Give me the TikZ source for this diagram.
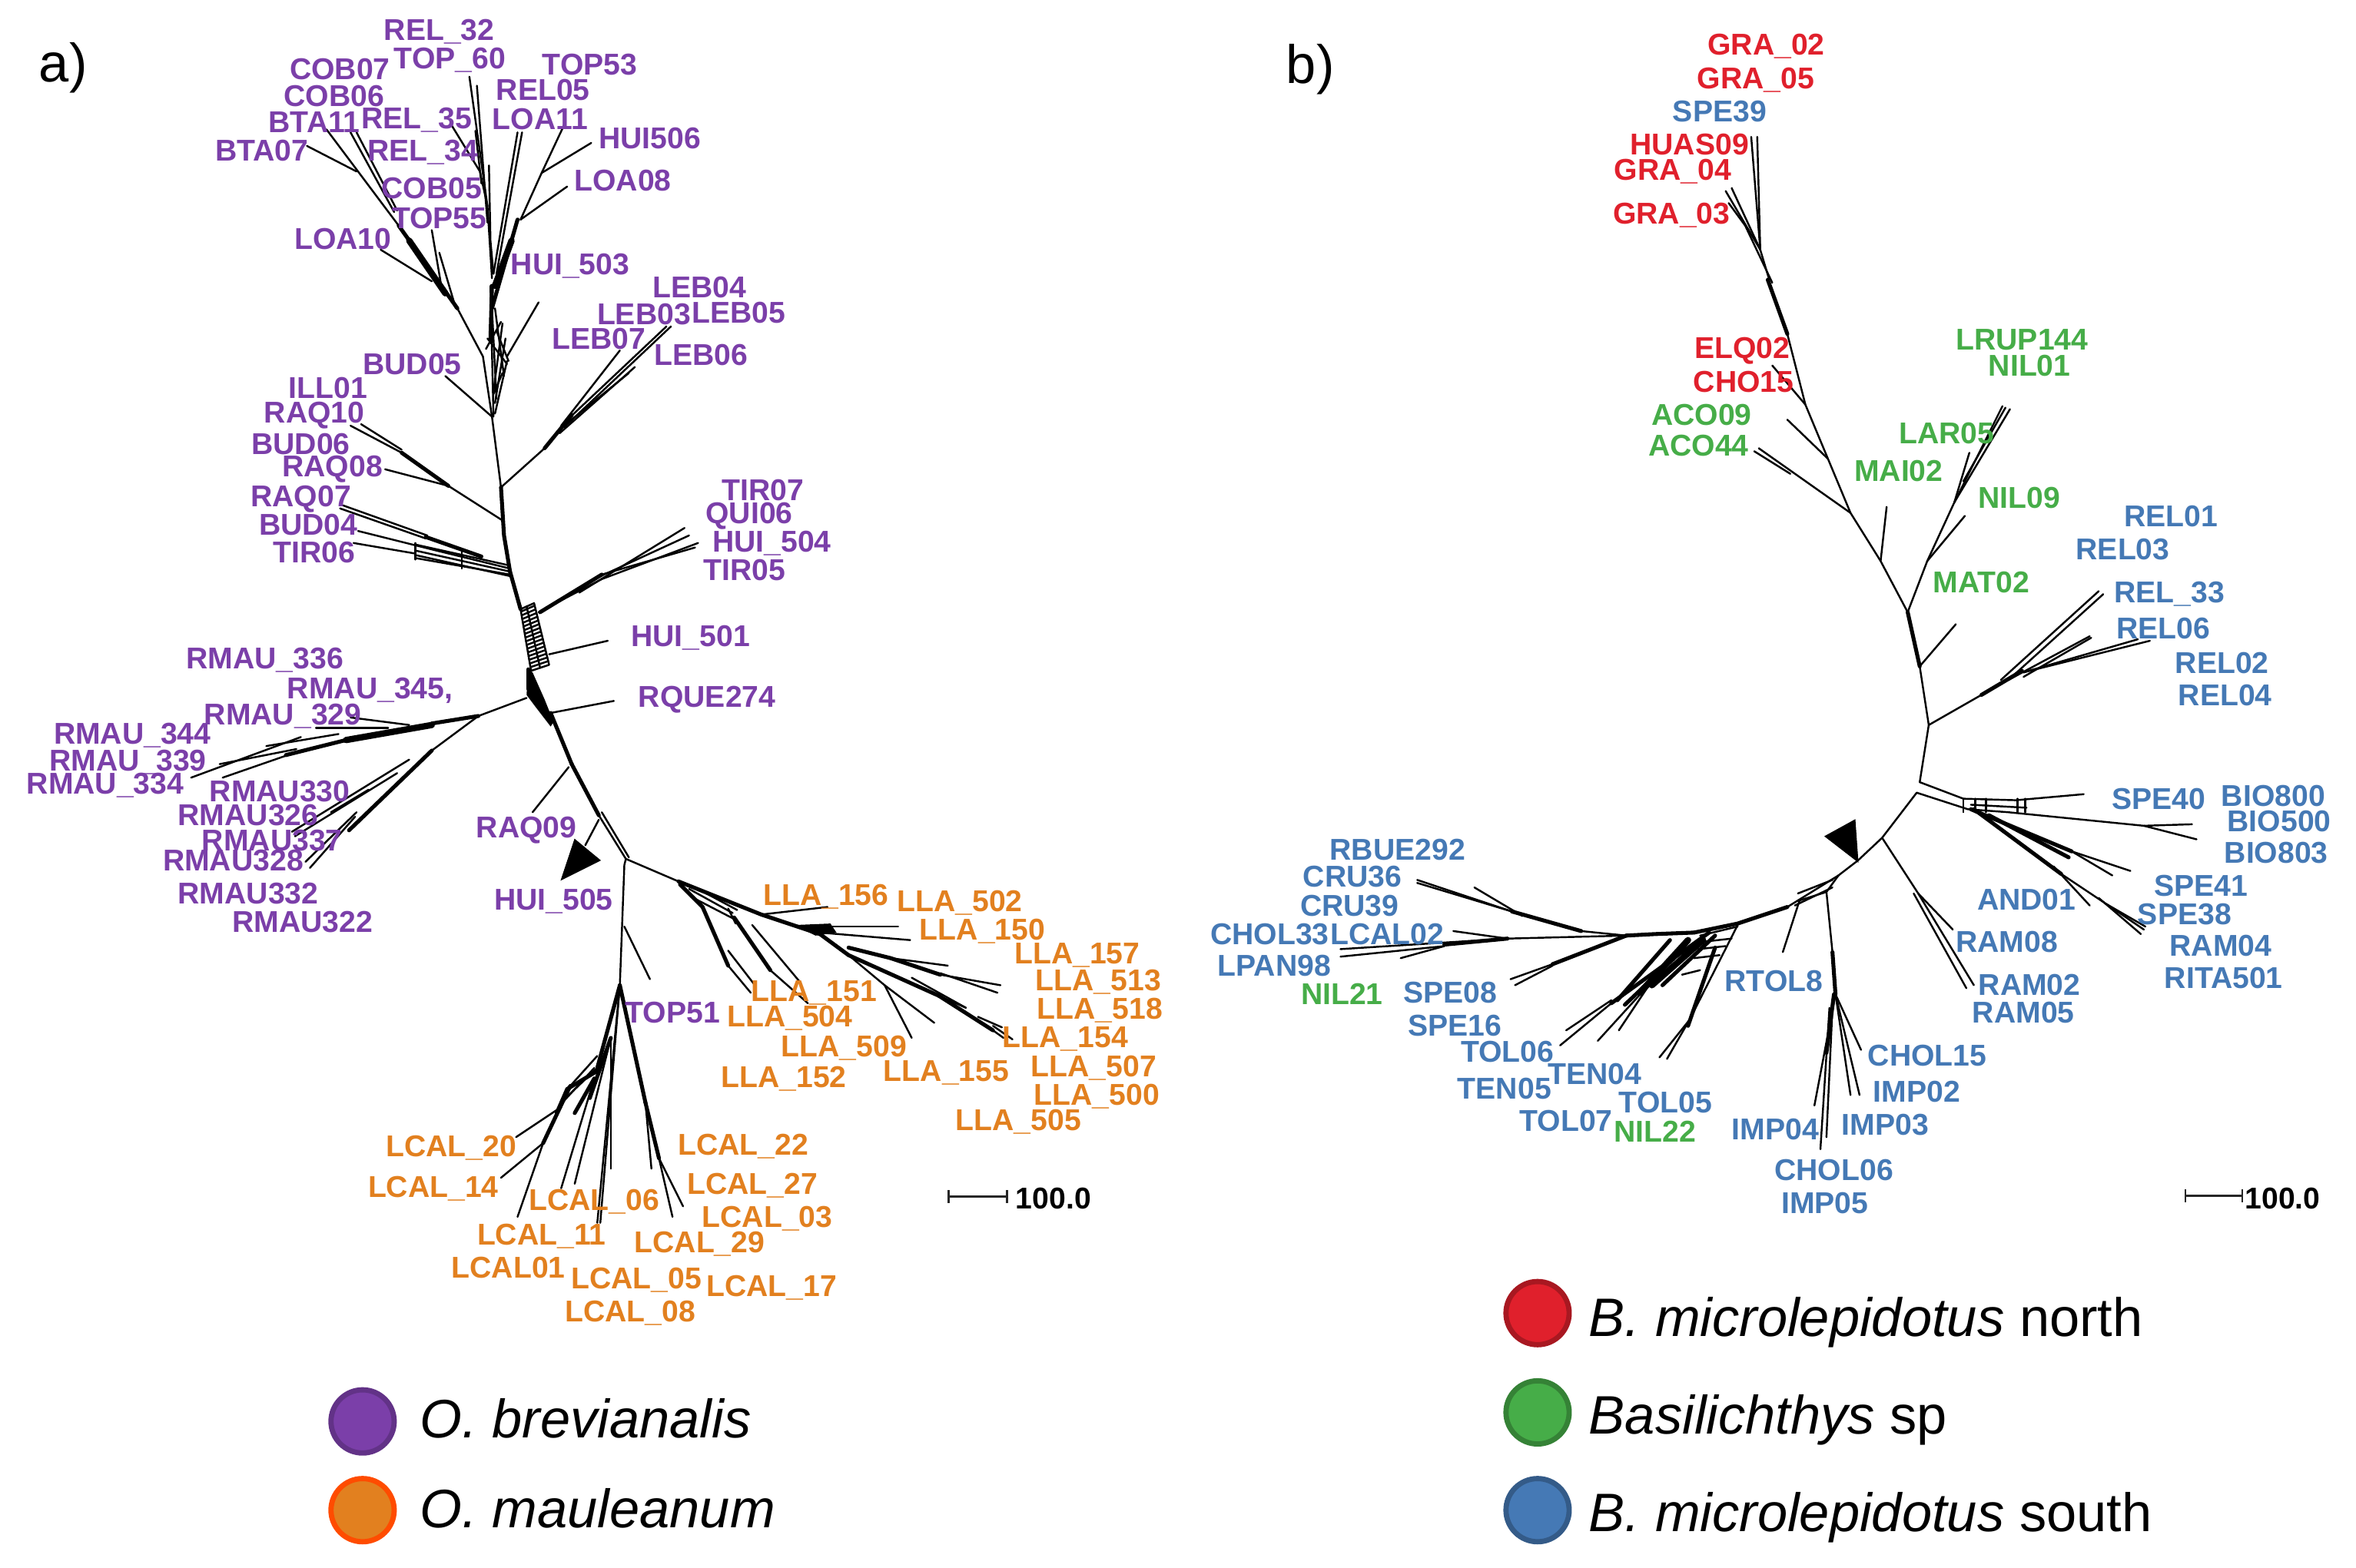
\documentclass[tikz,border=0pt]{standalone}
\usepackage{fontspec}
\usetikzlibrary{calc}
\setmainfont{Liberation Sans}
\definecolor{cpl}{HTML}{7B3FA9}
\definecolor{cog}{HTML}{E2801F}
\definecolor{crd}{HTML}{E0202C}
\definecolor{cgr}{HTML}{46AD48}
\definecolor{cbl}{HTML}{4579B5}
\tikzset{
 lab/.style={inner sep=0pt,font=\bfseries\fontsize{20}{20}\selectfont},
 pl/.style={lab,text=cpl}, og/.style={lab,text=cog}, rd/.style={lab,text=crd}, gr/.style={lab,text=cgr}, bl/.style={lab,text=cbl},
 br/.style={draw=black,line width=1.25pt,line cap=round,line join=round},
 th/.style={draw=black,line width=2.6pt,line cap=round,line join=round},
 fat/.style={draw=black,line width=4.2pt,line cap=round,line join=round},
 tri/.style={fill=black,draw=black,line width=.5pt},
 legdot/.style={circle,minimum size=42pt,inner sep=0pt,line width=3.5pt},
 legtext/.style={inner sep=0pt,anchor=west,font=\fontsize{36}{36}\selectfont},
 ptag/.style={inner sep=0pt,font=\fontsize{36}{36}\selectfont},
 scal/.style={lab,anchor=west,text=black},
 bar/.style={draw=black!85,line width=1.2pt,|-|}
}
\begin{document}
\begin{tikzpicture}[x=1pt,y=-1pt]
\useasboundingbox[fill=white] (0,0) rectangle (1566,1042);
% ---------- panel a tree ----------
\coordinate (A1) at (335,356); \coordinate (A2) at (333,324); \coordinate (A3) at (327,277);
\coordinate (A4) at (321,237); \coordinate (A5) at (339,380); \coordinate (A6) at (346,405);
\coordinate (A7) at (353,453); \coordinate (A8) at (366,474); \coordinate (A9) at (380,508);
\coordinate (A10) at (398,542); \coordinate (A11) at (416,571); \coordinate (A12) at (412,655);
\coordinate (A13) at (451,586); \coordinate (A14) at (298,323); \coordinate (A15) at (318,476);
\coordinate (A16) at (350,464);
% top
\draw[th] (A2)--(A1)--(A5);
\draw[br] (A2)--(A3)--(A4)--(304,205);
\draw[th] (304,205)--(265,150);
\draw[fat] (272,160)--(296,195);
\draw[br] (237,114)--(204,97);
\draw[br] (217,86)--(265,150);
\draw[br] (233,88)--(262,141); \draw[br] (237,88)--(264,140);
\draw[br] (253,166)--(287,187);
\draw[br] (287,153)--(294,194); \draw[br] (292,168)--(303,205);
\draw[th] (327,205)--(344,146);
\draw[fat] (329,190)--(340,160);
\draw[br] (347,88)--(330,182); \draw[br] (344,88)--(328,182);
\draw[br] (346,146)--(360,115)--(375,83); \draw[br] (393,95)--(360,115);
\draw[br] (377,124)--(346,146);
\draw[br] (312,51)--(324,137)--(327,185); \draw[br] (317,57)--(324,148);
\draw[br] (300,83)--(319,114)--(324,137);
\draw[br] (316,87)--(320,122);
\draw[br] (325,110)--(326,160)--(328,182);
\draw[br] (358,201)--(337,237);
% reticulation
\draw[br] (327,205)--(330,265); \draw[br] (329,205)--(335,250); \draw[br] (334,215)--(328,260);
\draw[br] (336,225)--(329,268); \draw[br] (324,225)--(337,242); \draw[br] (330,220)--(338,240);
\draw[br] (337,240)--(329,275); \draw[br] (334,248)--(328,262); \draw[br] (326,190)--(328,277);
\draw[br] (323,232)--(333,214);
\draw[th] (327,190)--(326,225);
% BUD05
\draw[br] (296,250)--(A3);
% LEB
\draw[br] (A2)--(362,298); \draw[th] (362,298)--(380,276);
\draw[br] (446,217)--(375,284); \draw[br] (443,217)--(374,282);
\draw[br] (422,244)--(372,288); \draw[br] (412,233)--(373,283); \draw[br] (418,248)--(375,283);
% RAQ
\draw[br] (334,346)--(A14); \draw[th] (A14)--(267,301);
\draw[br] (267,301)--(233,283); \draw[br] (267,299)--(240,282);
\draw[br] (256,312)--(A14);
% TIR06 ladder
\draw[br] (226,338)--(283,358); \draw[br] (228,336)--(284,356);
\draw[br] (238,353)--(290,366)--(339,378);
\draw[br] (235,361)--(276,368);
\draw[br] (276,362)--(339,376); \draw[br] (276,366)--(339,380); \draw[br] (276,369)--(339,383);\draw[br] (276,371)--(339,382);
\draw[br] (276,361)--(276,372); \draw[br] (307,367)--(307,378);
\draw[th] (283,357)--(320,370);
% lower backbone
\draw[th] (A5)--(A6);
\draw[br] (346,405)--(355,401)--(365,442)--(353,446)--cycle;
\draw[br] (350,403)--(359,444);
\foreach \t in {0.04,0.10,...,1.0}{\draw[br] ($(346,405)!\t!(353,446)$)--($(355,401)!\t!(365,442)$);}
\draw[th] (351,445)--(351,458);
\fill[black] (351,445)--(354,447)--(362,465)--(368,480)--(366,483)--(356,470)--(350,462)--cycle;
\draw[th] (A8)--(A9); \draw[th] (A9)--(A10);
\draw[br] (A10)--(A11); \draw[br] (400,540)--(418,570);
% TIR
\draw[br] (358,407)--(400,385);
\draw[th] (359,407)--(400,382);
\draw[br] (400,382)--(462,364); \draw[br] (400,385)--(464,361); \draw[br] (385,394)--(455,351); \draw[br] (395,385)--(458,356);
% HUI501 RQUE
\draw[br] (365,435)--(404,426);
\draw[br] (366,474)--(408,466);
% RMAU
\draw[br] (A16)--(A15);
\draw[th] (A15)--(287,481); \draw[fat] (287,482)--(230,492); \draw[th] (230,492)--(190,502);
\draw[br] (233,477)--(272,482); \draw[br] (210,484)--(258,484);
\draw[br] (177,496)--(225,488); \draw[br] (146,508)--(197,498);
\draw[br] (148,517)--(197,500); \draw[br] (127,517)--(200,490);
\draw[br] (A15)--(287,499); \draw[th] (287,499)--(232,552);
\draw[br] (272,505)--(194,553); \draw[br] (264,514)--(196,556); \draw[br] (245,525)--(220,540);
\draw[br] (237,540)--(203,573); \draw[br] (236,543)--(206,577);
% RAQ09 HUI505
\draw[br] (354,540)--(378,510);
\draw[br] (398,545)--(389,562);
\draw[tri] (382,558)--(399,572)--(373,585)--cycle;
% to LCAL
\draw[br] (A11)--(415,575)--(A12);
\draw[br] (415,616)--(432,651);
% LLA
\draw[br] (A11)--(A13);
\draw[th] (A13)--(506,608)--(545,621)--(564,635);
\draw[th] (452,588)--(467,603);
\draw[br] (459,596)--(488,611); \draw[br] (462,590)--(490,605); \draw[br] (458,591)--(487,607); \draw[br] (484,604)--(489,614);
\draw[th] (467,603)--(484,642); \draw[br] (484,642)--(499,660); \draw[br] (484,632)--(501,654);
\draw[th] (488,610)--(512,645); \draw[br] (512,645)--(537,667); \draw[br] (500,615)--(531,652);
\draw[br] (506,608)--(550,603);
\fill[black] (528,615)--(552,614)--(556,620)--(542,622)--cycle;
\draw[br] (545,616)--(597,616); \draw[br] (545,620)--(605,625);
\draw[th] (564,630)--(592,637);
\draw[th] (592,637)--(625,648);
\draw[br] (592,637)--(630,642); \draw[br] (625,648)--(665,655); \draw[br] (625,647)--(663,660);
\draw[br] (564,635)--(588,655)--(606,690); \draw[br] (588,655)--(621,680);
\draw[th] (564,635)--(624,662);
\draw[br] (624,662)--(642,670);
\draw[th] (624,662)--(660,685);
\draw[br] (660,685)--(667,690); \draw[br] (660,682)--(673,691); \draw[br] (650,676)--(666,683);
\draw[br] (606,650)--(642,670);
% LCAL
\draw[th] (A12)--(397,710);
\draw[th] (397,712)--(377,724)--(370,740);
\draw[br] (379,722)--(397,702); \draw[br] (372,735)--(395,710); \draw[br] (376,730)--(399,708);
\draw[br] (343,756)--(370,738); \draw[br] (333,783)--(361,760);
\draw[br] (344,809)--(361,760); \draw[th] (361,760)--(379,722);
\draw[br] (373,790)--(395,717); \draw[th] (382,740)--(395,717);
\draw[br] (382,787)--(406,690); \draw[th] (392,730)--(406,690);
\draw[br] (406,777)--(406,690);
\draw[br] (397,813)--(A12); \draw[br] (399,813)--(A12);
\draw[th] (A12)--(429,733);
\draw[th] (429,733)--(438,770);
\draw[br] (438,770)--(447,809); \draw[br] (438,770)--(454,802); \draw[br] (429,733)--(433,777);
% ---------- panel b tree ----------
\coordinate (B1) at (1170,166); \coordinate (B2) at (1188,222); \coordinate (B3) at (1200,269);
\coordinate (B4) at (1215,305); \coordinate (B5) at (1230,341); \coordinate (B6) at (1250,373);
\coordinate (B7) at (1268,407); \coordinate (B8) at (1276,443); \coordinate (B9) at (1282,482);
\coordinate (B10) at (1276,520); \coordinate (B11) at (1274,527); \coordinate (B12) at (1251,557);
\coordinate (B13) at (1235,572); \coordinate (B14) at (1222,582); \coordinate (B15) at (1188,603);
\coordinate (B16) at (1155,614); \coordinate (B17) at (1126,620); \coordinate (B18) at (1081,622);
\draw[br] (1164,91)--(1170,166); \draw[br] (1168,91)--(1170,166);
\draw[br] (1147,127)--(B1); \draw[br] (1151,125)--(B1); \draw[br] (1149,135)--(1160,150);
\draw[br] (1160,150)--(1178,188); \draw[br] (B1)--(1176,186);
\draw[th] (1175,186)--(B2);
\draw[br] (B2)--(B3)--(B4)--(B5)--(B6)--(B7);
\draw[br] (1178,243)--(B3); \draw[br] (1188,279)--(B4);
\draw[br] (1169,298)--(B5); \draw[br] (1166,300)--(1190,315);
\draw[br] (1254,337)--(B6);
\draw[br] (B7)--(1281,373)--(1299,334);
\draw[br] (1299,334)--(1331,270); \draw[br] (1299,334)--(1336,272); \draw[br] (1305,320)--(1333,271);
\draw[br] (1309,301)--(1299,334);
\draw[br] (1306,343)--(1281,373);
\draw[br] (1300,415)--(B8);
\draw[th] (B7)--(B8); \draw[br] (B8)--(B9)--(B10);
\draw[br] (B9)--(1317,462);
\draw[th] (1317,462)--(1344,446);
\draw[br] (1330,452)--(1395,393); \draw[br] (1335,452)--(1398,395);
\draw[br] (1335,452)--(1389,423); \draw[br] (1345,450)--(1390,424);
\draw[br] (1345,447)--(1421,425); \draw[br] (1345,447)--(1429,426);
% bottom right ladder
\draw[br] (B10)--(1305,531)--(1340,532)--(1385,528);
\draw[br] (B11)--(1308,538)--(1335,540)--(1425,549);
\draw[br] (1425,549)--(1457,548); \draw[br] (1425,549)--(1460,558);
\foreach \u in {1305,1313,1320,1341,1346}{\draw[br] (\u,531)--(\u,540);}
\draw[br] (1310,535)--(1347,537);
\draw[br] (B11)--(B12)--(B13)--(B14);
\draw[th] (1310,538)--(1377,566);
\draw[br] (1377,566)--(1416,579); \draw[br] (1377,566)--(1404,582);
\draw[th] (1312,538)--(1370,581);
\draw[br] (1365,576)--(1389,602); \draw[br] (1370,581)--(1400,601)--(1426,616); \draw[br] (1400,601)--(1425,618); \draw[br] (1395,597)--(1423,621);
\draw[th] (1322,542)--(1375,570);
\draw[br] (B12)--(1275,594)--(1298,618); \draw[br] (1275,594)--(1312,655); \draw[br] (1272,594)--(1307,657);
\draw[tri] (1213,556)--(1233,545)--(1235,573)--cycle;
% bottom
\draw[br] (1214,593)--(1218,633);
\draw[th] (1218,633)--(1220,661);
\draw[br] (1220,661)--(1237,698); \draw[br] (1220,661)--(1236,728); \draw[br] (1220,661)--(1230,728);
\draw[br] (1220,661)--(1206,735); \draw[th] (1219,661)--(1214,700);
\draw[br] (1216,670)--(1210,764); \draw[br] (1218,670)--(1214,756);
\draw[br] (1196,599)--(1185,633);
% to left
\draw[br] (B14)--(B15); \draw[br] (B14)--(1214,593)--(1195,599);
\draw[br] (1218,585)--(1195,594); \draw[br] (1218,590)--(1193,602);
\draw[th] (B15)--(B16)--(B17); \draw[th] (B17)--(1100,621)--(B18);
\draw[br] (B18)--(1051,619);
\draw[th] (1051,619)--(1005,606);
\draw[br] (1005,606)--(942,585); \draw[br] (1005,606)--(942,587); \draw[br] (980,590)--(1012,609);
\draw[br] (B18)--(1002,624);
\draw[br] (1002,624)--(891,631); \draw[br] (966,619)--(1002,624);
\draw[br] (891,636)--(960,629); \draw[br] (931,637)--(960,629);
\draw[th] (960,628)--(1002,624);
\draw[br] (B18)--(1032,641)--(1004,651); \draw[br] (1007,655)--(1032,642);
\draw[th] (B18)--(1032,641);
% mesh
\draw[th] (1136,620)--(1071,667);
\draw[fat] (1122,625)--(1090,660);
\draw[fat] (1132,625)--(1098,655);
\draw[th] (1110,625)--(1075,665);
\draw[th] (1118,632)--(1080,668);
\draw[th] (1140,622)--(1105,655);
\draw[br] (1071,667)--(1037,695); \draw[br] (1071,665)--(1041,685);
\draw[br] (1103,647)--(1062,692); \draw[br] (1098,652)--(1076,685);
\draw[br] (1155,615)--(1123,678)--(1103,703); \draw[br] (1123,678)--(1108,704);
\draw[th] (1140,630)--(1122,682);
\draw[br] (1130,622)--(1155,616); \draw[br] (1133,626)--(1151,624); \draw[br] (1129,631)--(1147,629);
\draw[br] (1126,637)--(1143,635); \draw[br] (1118,648)--(1130,645);
% ---------- scale bars ----------
\coordinate (SA1) at (630,795.5); \coordinate (SA2) at (670,795.5);
\coordinate (SB1) at (1452,795); \coordinate (SB2) at (1491,795);
\draw[bar] (SA1)--(SA2); \draw[bar] (SB1)--(SB2);
\node[scal] (scaleA) at (675,797) {100.0};
\node[scal] (scaleB) at (1492,797) {100.0};
% ---------- tags ----------
\node[ptag] (tagA) at (42,45) {a)};
\node[ptag] (tagB) at (871,46) {b)};
% ---------- purple ----------
\node[pl] (a1) at (292,21) {REL\_32};
\node[pl] (a2) at (299,40) {TOP\_60};
\node[pl] (a3) at (226,46) {COB07};
\node[pl] (a4) at (392,43) {TOP53};
\node[pl] (a5) at (222,64) {COB06};
\node[pl] (a6) at (361,60) {REL05};
\node[pl] (a7) at (209,81) {BTA11};
\node[pl] (a8) at (277,80) {REL\_35};
\node[pl] (a9) at (359,79) {LOA11};
\node[pl] (a10) at (432,92) {HUI506};
\node[pl] (a11) at (174,100) {BTA07};
\node[pl] (a12) at (281,101) {REL\_34};
\node[pl] (a13) at (414,120) {LOA08};
\node[pl] (a14) at (287,125) {COB05};
\node[pl] (a15) at (292,145) {TOP55};
\node[pl] (a16) at (228,159) {LOA10};
\node[pl] (a17) at (379,177) {HUI\_503};
\node[pl] (a18) at (465,191) {LEB04};
\node[pl] (a19) at (428,209) {LEB03};
\node[pl] (a20) at (491,208) {LEB05};
\node[pl] (a21) at (398,225) {LEB07};
\node[pl] (a22) at (466,236) {LEB06};
\node[pl] (a23) at (274,242) {BUD05};
\node[pl] (a24) at (218,258) {ILL01};
\node[pl] (a25) at (209,276) {RAQ10};
\node[pl] (a26) at (200,295) {BUD06};
\node[pl] (a27) at (221,312) {RAQ08};
\node[pl] (a28) at (200,332) {RAQ07};
\node[pl] (a29) at (205,349) {BUD04};
\node[pl] (a30) at (507,326) {TIR07};
\node[pl] (a31) at (498,343) {QUI06};
\node[pl] (a32) at (513,361) {HUI\_504};
\node[pl] (a33) at (495,379) {TIR05};
\node[pl] (a34) at (209,367) {TIR06};
\node[pl] (a35) at (459,424) {HUI\_501};
\node[pl] (a36) at (176,439) {RMAU\_336};
\node[pl] (a37) at (246,459) {RMAU\_345,};
\node[pl] (a38) at (188,476) {RMAU\_329};
\node[pl] (a39) at (470,465) {RQUE274};
\node[pl] (a40) at (88,489) {RMAU\_344};
\node[pl] (a41) at (85,507) {RMAU\_339};
\node[pl] (a42) at (70,522) {RMAU\_334};
\node[pl] (a43) at (186,526) {RMAU330};
\node[pl] (a44) at (165,542) {RMAU326};
\node[pl] (a45) at (181,559) {RMAU337};
\node[pl] (a46) at (155,572) {RMAU328};
\node[pl] (a47) at (165,594) {RMAU332};
\node[pl] (a48) at (201,613) {RMAU322};
\node[pl] (a49) at (350,552) {RAQ09};
\node[pl] (a50) at (368,599) {HUI\_505};
\node[pl] (a51) at (447,673) {TOP51};
% ---------- orange ----------
\node[og] (o1) at (549,596) {LLA\_156};
\node[og] (o2) at (638,600) {LLA\_502};
\node[og] (o3) at (653,619) {LLA\_150};
\node[og] (o4) at (716,635) {LLA\_157};
\node[og] (o5) at (730,653) {LLA\_513};
\node[og] (o6) at (731,672) {LLA\_518};
\node[og] (o7) at (541,660) {LLA\_151};
\node[og] (o8) at (525,677) {LLA\_504};
\node[og] (o9) at (561,697) {LLA\_509};
\node[og] (o10) at (708,691) {LLA\_154};
\node[og] (o11) at (727,710) {LLA\_507};
\node[og] (o12) at (729,729) {LLA\_500};
\node[og] (o13) at (521,717) {LLA\_152};
\node[og] (o14) at (629,713) {LLA\_155};
\node[og] (o15) at (677,746) {LLA\_505};
\node[og] (o16) at (300,763) {LCAL\_20};
\node[og] (o17) at (494,762) {LCAL\_22};
\node[og] (o18) at (288,790) {LCAL\_14};
\node[og] (o19) at (500,788) {LCAL\_27};
\node[og] (o20) at (395,799) {LCAL\_06};
\node[og] (o21) at (510,810) {LCAL\_03};
\node[og] (o22) at (360,822) {LCAL\_11};
\node[og] (o23) at (465,827) {LCAL\_29};
\node[og] (o24) at (338,843) {LCAL01};
\node[og] (o25) at (423,851) {LCAL\_05};
\node[og] (o26) at (513,856) {LCAL\_17};
\node[og] (o27) at (419,873) {LCAL\_08};
% ---------- panel b labels ----------
\node[rd] (b1) at (1174,31) {GRA\_02};
\node[rd] (b2) at (1167,53) {GRA\_05};
\node[bl] (b3) at (1143,74) {SPE39};
\node[rd] (b4) at (1123,96) {HUAS09};
\node[rd] (b5) at (1112,114) {GRA\_04};
\node[rd] (b6) at (1111,143) {GRA\_03};
\node[rd] (b7) at (1158,233) {ELQ02};
\node[rd] (b8) at (1159,254) {CHO15};
\node[gr] (b9) at (1344,226) {LRUP144};
\node[gr] (b10) at (1349,243) {NIL01};
\node[gr] (b11) at (1131,276) {ACO09};
\node[gr] (b12) at (1129,296) {ACO44};
\node[gr] (b13) at (1294,288) {LAR05};
\node[gr] (b14) at (1262,313) {MAI02};
\node[gr] (b15) at (1342,331) {NIL09};
\node[bl] (b16) at (1443,343) {REL01};
\node[bl] (b17) at (1411,365) {REL03};
\node[gr] (b18) at (1317,387) {MAT02};
\node[bl] (b19) at (1442,395) {REL\_33};
\node[bl] (b20) at (1438,418) {REL06};
\node[bl] (b21) at (1477,441) {REL02};
\node[bl] (b22) at (1479,462) {REL04};
\node[bl] (b23) at (1435,531) {SPE40};
\node[bl] (b24) at (1511,529) {BIO800};
\node[bl] (b25) at (1515,546) {BIO500};
\node[bl] (b26) at (1513,567) {BIO803};
\node[bl] (b27) at (1463,589) {SPE41};
\node[bl] (b28) at (1452,608) {SPE38};
\node[bl] (b29) at (1347,598) {AND01};
\node[bl] (b30) at (1334,626) {RAM08};
\node[bl] (b31) at (1476,629) {RAM04};
\node[bl] (b32) at (1478,650) {RITA501};
\node[bl] (b33) at (1349,655) {RAM02};
\node[bl] (b34) at (1345,673) {RAM05};
\node[bl] (b35) at (929,565) {RBUE292};
\node[bl] (b36) at (899,583) {CRU36};
\node[bl] (b37) at (897,602) {CRU39};
\node[bl] (b38) at (844,621) {CHOL33};
\node[bl] (b39) at (922,621) {LCAL02};
\node[bl] (b40) at (847,642) {LPAN98};
\node[gr] (b41) at (892,661) {NIL21};
\node[bl] (b42) at (964,660) {SPE08};
\node[bl] (b43) at (967,682) {SPE16};
\node[bl] (b44) at (1179,652) {RTOL8};
\node[bl] (b45) at (1002,699) {TOL06};
\node[bl] (b46) at (1060,714) {TEN04};
\node[bl] (b47) at (1000,724) {TEN05};
\node[bl] (b48) at (1107,733) {TOL05};
\node[bl] (b49) at (1041,745) {TOL07};
\node[gr] (b50) at (1100,752) {NIL22};
\node[bl] (b51) at (1281,702) {CHOL15};
\node[bl] (b52) at (1274,726) {IMP02};
\node[bl] (b53) at (1253,748) {IMP03};
\node[bl] (b54) at (1180,751) {IMP04};
\node[bl] (b55) at (1219,778) {CHOL06};
\node[bl] (b56) at (1213,800) {IMP05};
% ---------- legends ----------
\node[legdot,fill=cpl,draw=cpl!80!black] (legA1) at (241,945) {};
\node[legdot,fill=cog,draw=orange!60!red] (legA2) at (241,1004) {};
\node[legdot,fill=crd,draw=crd!75!black] (legB1) at (1022,873) {};
\node[legdot,fill=cgr,draw=cgr!75!black] (legB2) at (1022,939) {};
\node[legdot,fill=cbl,draw=cbl!75!black] (legB3) at (1022,1004) {};
\node[legtext] (ltA1) at (279,943) {\textit{O. brevianalis}};
\node[legtext] (ltA2) at (279,1003) {\textit{O. mauleanum}};
\node[legtext] (ltB1) at (1056,879) {\textit{B. microlepidotus} north};
\node[legtext] (ltB2) at (1056,944) {\textit{Basilichthys} sp};
\node[legtext] (ltB3) at (1056,1009) {\textit{B. microlepidotus} south};
\end{tikzpicture}
\end{document}
